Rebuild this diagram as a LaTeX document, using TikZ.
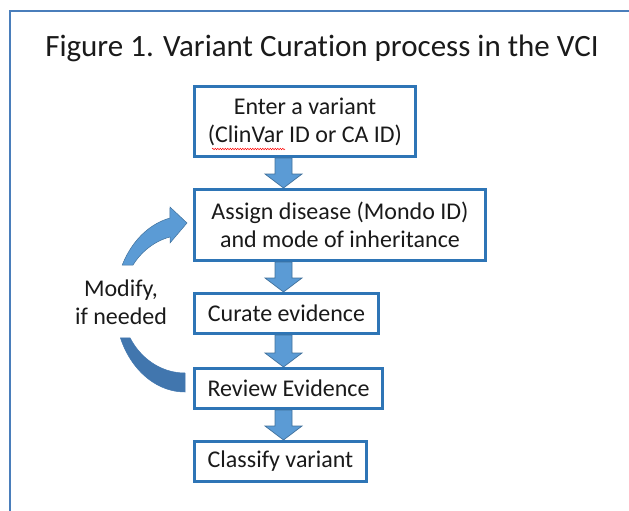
\documentclass[tikz,border=0pt]{standalone}
\usepackage{fontspec}
\setmainfont{Carlito}[Ligatures={NoCommon}]
\usetikzlibrary{calc,decorations.pathmorphing}
\definecolor{frameblue}{HTML}{4A7EBB}
\definecolor{boxblue}{HTML}{2E75B6}
\definecolor{arrfill}{HTML}{5B9BD5}
\definecolor{arrline}{HTML}{41719C}
\definecolor{arrdark}{HTML}{4176AE}
\definecolor{txt}{HTML}{1A1A1A}
\tikzset{
  box/.style={draw=boxblue, line width=3pt, fill=white, inner sep=0pt, align=center,
    font=\fontsize{24}{28}\selectfont, text=txt},
  blockarrow/.style={fill=arrfill, draw=arrline, line width=0.7pt, line join=miter},
  curvelight/.style={fill=arrfill, draw=arrline, line width=0.5pt},
  curvedark/.style={fill=arrdark, draw=arrdark, line width=0.5pt},
  frameline/.style={draw=frameblue, line width=2pt},
  titletext/.style={font=\fontsize{31}{34}\selectfont, text=txt, inner sep=0pt},
  sidetext/.style={font=\fontsize{24}{28}\selectfont, text=txt, align=center, inner sep=0pt},
}
\newcommand\blockarr[2]{%
  \path[blockarrow] ($(ax |- #1.south)+(-8.5,0)$) -- ($(ax |- #2.north)+(-8.5,-14)$)
    -- ($(ax |- #2.north)+(-18.5,-14)$) -- (ax |- #2.north)
    -- ($(ax |- #2.north)+(18.5,-14)$) -- ($(ax |- #2.north)+(8.5,-14)$)
    -- ($(ax |- #1.south)+(8.5,0)$) -- cycle;}
\begin{document}
\begin{tikzpicture}[x=1pt,y=-1pt]
\useasboundingbox (0,0) rectangle (629,511);
% frame
\draw[frameline] (10,512) coordinate (fbl) -- (10,11) coordinate (ftl) -- (630,11) coordinate (ftr);
% title
\node[titletext, anchor=base] (title) at (322,57) {Figure 1. Variant Curation process in the VCI};
% boxes
\node[box, minimum width=221pt, minimum height=70pt] (b1) at (305,121.5) {Enter a variant\\(ClinVar ID or CA ID)};
\node[box, minimum width=291pt, minimum height=71pt] (b2) at (340,225) {Assign disease (Mondo ID)\\and mode of inheritance};
\node[box, minimum width=184pt, minimum height=40pt] (b3) at (286.5,313.5) {Curate evidence};
\node[box, minimum width=188pt, minimum height=40pt] (b4) at (288.5,388.5) {Review Evidence};
\node[box, minimum width=172pt, minimum height=40pt] (b5) at (280.5,461.5) {Classify variant};
% spell-check squiggle
\coordinate (sq1) at (212,149);
\coordinate (sq2) at (285,149);
\draw[red, line width=0.5pt, decorate, decoration={snake, amplitude=0.7pt, segment length=2.5pt}] (sq1) -- (sq2);
% block arrows
\coordinate (ax) at (283.5,0);
\blockarr{b1}{b2}
\blockarr{b2}{b3}
\blockarr{b3}{b4}
\blockarr{b4}{b5}
% curved arrow (upper, light)
\path[curvelight]
  plot[domain=206.3:257.6, samples=40] ({185+70*cos(\x)},{304+88*sin(\x)})
  -- (170,207) -- (187,223) -- (170,243) -- (170,237)
  -- plot[domain=256.2:214.4, samples=40] ({185+63*cos(\x)},{304+69*sin(\x)})
  -- cycle;
% curved arrow (lower, dark)
\path[curvedark]
  plot[domain=157.3:90, samples=40] ({185+70*cos(\x)},{304+88*sin(\x)})
  -- plot[domain=90:150.5, samples=40] ({185+63*cos(\x)},{304+69*sin(\x)})
  -- cycle;
% side text
\node[sidetext] (modify) at (121,302) {Modify,\\if needed};
\end{tikzpicture}
\end{document}
